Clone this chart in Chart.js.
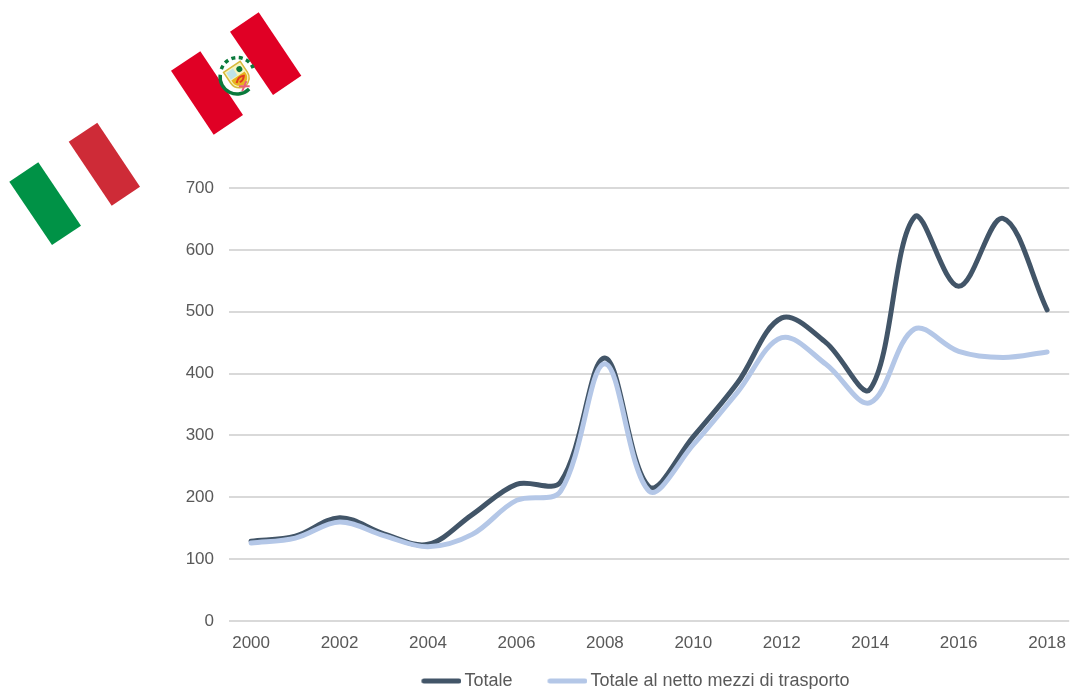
<!DOCTYPE html>
<html>
<head>
<meta charset="utf-8">
<title>Totale</title>
<script src="https://cdn.jsdelivr.net/npm/chart.js@4"></script>
<style>
  html, body { margin: 0; padding: 0; background: #fff; overflow: hidden; }
  #chart { position: absolute; left: 0; top: 0; }
  #flags { position: absolute; left: 0; top: 0; pointer-events: none; }
</style>
</head>
<body>
<canvas id="chart" width="1070" height="689"></canvas>
<svg id="flags" width="310" height="250">
  <!-- Italia -->
  <polygon points="9.3,181.7 38.3,162.3 81,225.7 52,245" fill="#009246"/>
  <polygon points="68.7,141.7 97.3,122.7 140,186.7 111.7,205.7" fill="#ce2b37"/>
  <!-- Peru -->
  <polygon points="171,70.7 200.3,51.3 243,115 213.7,134.7" fill="#e00025"/>
  <polygon points="230,31.7 258.7,12.3 301.3,75.7 273,95" fill="#e00025"/>
  <!-- stemma -->
  <g transform="translate(2 2) rotate(-34 236 74)">
    <path d="M222 63 A17 17 0 0 0 238 91" fill="none" stroke="#0a7a3c" stroke-width="3.5"/>
    <path d="M226 59 A17 17 0 0 1 253 76" fill="none" stroke="#0a7a3c" stroke-width="3.5" stroke-dasharray="4 3.5"/>
    <path d="M226 63 H246 V76 Q246 84 236 87 Q226 84 226 76 Z" fill="#f8f4c0" stroke="#d8b93c" stroke-width="1.5"/>
    <rect x="228" y="65" width="8" height="8" fill="#bfe3ea"/>
    <circle cx="241" cy="69" r="3" fill="#0a7a3c"/>
    <path d="M228 74 H244 V77 Q244 82 236 85 Q228 82 228 77 Z" fill="#e8b41e"/>
    <path d="M231 79 q5 -5 10 -2 q-3 4 -7 3" fill="none" stroke="#e23a1e" stroke-width="2"/>
    <path d="M231 83 l9 6 M240 83 l-9 6" stroke="#e8607a" stroke-width="2"/>
  </g>
</svg>
<script>
const years = ['2000', '2001', '2002', '2003', '2004', '2005', '2006', '2007', '2008', '2009',
  '2010', '2011', '2012', '2013', '2014', '2015', '2016', '2017', '2018'];
const totale = [129, 137, 167, 141, 124, 172, 221, 225, 425, 217, 298, 385, 490, 450, 375, 653, 541, 651, 503];
const nettoTrasporti = [126, 134, 160, 138, 120, 140, 195, 210, 416, 210, 285, 370, 458, 415, 353, 472, 436, 426, 435];

const grey = '#595959';
const fontFamily = '"Liberation Sans", Arial, sans-serif';

// la legenda sta a destra del centro e piu' in basso della sua posizione normale
const legendShift = {
  id: 'legendShift',
  afterLayout(chart) {
    chart.legend.left += 200;
    chart.legend.top -= 18;
  }
};

// tratto della legenda con estremi arrotondati, piu' vicino al testo del simbolo standard
function legendLine(color) {
  const c = document.createElement('canvas');
  c.width = 46;
  c.height = 8;
  const g = c.getContext('2d');
  g.strokeStyle = color;
  g.lineWidth = 5;
  g.lineCap = 'round';
  g.beginPath();
  g.moveTo(8.5, 4);
  g.lineTo(43.5, 4);
  g.stroke();
  return c;
}

new Chart(document.getElementById('chart').getContext('2d'), {
  type: 'line',
  data: {
    labels: years,
    datasets: [
      {
        label: 'Totale',
        data: totale,
        borderColor: '#425568',
        backgroundColor: '#425568',
        borderWidth: 5,
        borderCapStyle: 'round',
        pointRadius: 0,
        pointStyle: legendLine('#425568'),
        tension: 0.35,
        order: 2
      },
      {
        label: 'Totale al netto mezzi di trasporto',
        data: nettoTrasporti,
        borderColor: '#b4c7e7',
        backgroundColor: '#b4c7e7',
        borderWidth: 5,
        borderCapStyle: 'round',
        pointRadius: 0,
        pointStyle: legendLine('#b4c7e7'),
        tension: 0.35,
        order: 1
      }
    ]
  },
  plugins: [legendShift],
  options: {
    responsive: false,
    animation: false,
    layout: { padding: { top: 188, right: -1, bottom: -29, left: 0 } },
    plugins: {
      legend: {
        position: 'bottom',
        labels: {
          color: grey,
          font: { family: fontFamily, size: 18 },
          usePointStyle: true,
          pointStyleWidth: 34,
          padding: 35,
          sort: (a, b) => a.datasetIndex - b.datasetIndex
        }
      },
      tooltip: { enabled: false }
    },
    scales: {
      x: {
        offset: true,
        grid: { display: false },
        border: { display: false },
        afterFit: function(scale) { scale.height = 34; },
        ticks: {
          color: grey,
          font: { family: fontFamily, size: 17 },
          padding: 4,
          autoSkip: false,
          maxRotation: 0,
          callback: function(value, i) { return i % 2 === 0 ? this.getLabelForValue(value) : ''; }
        }
      },
      y: {
        min: 0,
        max: 700,
        afterFit: function(scale) { scale.width = 229; },
        grid: { color: '#d9d9d9', lineWidth: 2, drawTicks: false },
        border: { display: false },
        ticks: { color: grey, font: { family: fontFamily, size: 17 }, stepSize: 100, padding: 15 }
      }
    }
  }
});
</script>
</body>
</html>
